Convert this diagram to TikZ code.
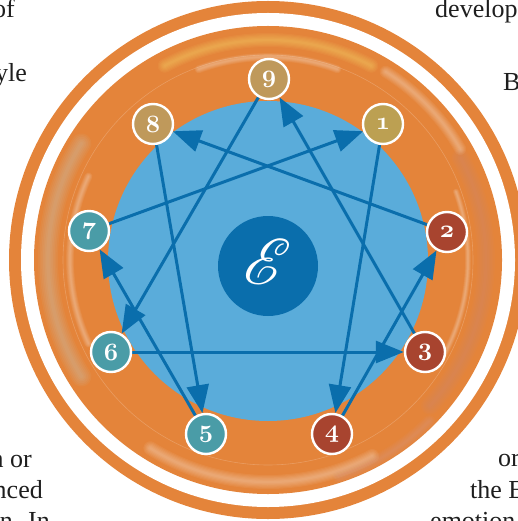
\documentclass[tikz,border=0pt]{standalone}
\usepackage{fontspec}
\setmainfont{Liberation Serif}
\usepackage{mathrsfs}
\usetikzlibrary{arrows.meta}
\definecolor{ringor}{HTML}{E4843A}
\definecolor{ltblue}{HTML}{5AACDA}
\definecolor{dkblue}{HTML}{0A6EAC}
\definecolor{tan}{HTML}{BF995B}
\definecolor{olive}{HTML}{BCA052}
\definecolor{rust}{HTML}{A8442F}
\definecolor{teal}{HTML}{4A9CA7}
\definecolor{txt}{HTML}{1E1E1E}
\pgfdeclarelayer{bg}\pgfdeclarelayer{mid}\pgfsetlayers{bg,mid,main}
% soft blurred arc: colour, radius, start, end, width
\newcommand\softarc[5]{%
  \foreach \k in {1,2,3,4,5,6}{%
    \pgfmathsetmacro\lw{#5*\k/6}%
    \draw[color=#1,opacity=0.06,line width=\lw pt,line cap=round]
      (268,260) ++(#3:#2pt) arc[start angle=#3,end angle=#4,radius=#2pt];}}
\begin{document}
\begin{tikzpicture}[x=1pt,y=-1pt,
  num/.style={circle,minimum size=40pt,inner sep=0pt,draw=white,line width=2.4pt,text=white,
    font=\fontsize{31}{31}\usefont{OML}{cmm}{b}{it}},
  arr/.style={draw=dkblue,line width=3pt,-{Triangle[length=28pt,width=22pt]}},
  frag/.style={font=\fontsize{26}{26}\selectfont,text=txt,inner sep=0pt}]
\useasboundingbox (0,0) rectangle (517,521);
\begin{pgfonlayer}{bg}
  \fill[ringor] (268,260) circle (259pt);
  \fill[white] (268,260) circle (247pt);
  \fill[ringor] (268,260) circle (234pt);
  % soft streaks in the ring
  \softarc{yellow!50!white}{220}{118}{62}{14}
  \softarc{white}{203}{110}{70}{8}
  \softarc{teal!35!white}{220}{148}{212}{20}
  \softarc{white}{198}{155}{205}{8}
  \softarc{rust!60!white}{218}{28}{-42}{18}
  \softarc{white}{200}{20}{-30}{6}
  \softarc{white}{222}{-62}{-122}{14}
  \softarc{rust!50!white}{228}{-45}{-72}{12}
  \softarc{white}{222}{58}{30}{12}
  \draw[white,opacity=0.2,line width=0.6pt] (268,260) circle (205pt);
  \fill[ltblue] (268,261) circle (160pt);
  \fill[dkblue] (268,266) circle (50pt);
\end{pgfonlayer}
% numbered points
\node[num,fill=tan]   (n9) at (269,79)  {9};
\node[num,fill=olive] (n1) at (383,124) {1};
\node[num,fill=rust]  (n2) at (447,232) {2};
\node[num,fill=rust]  (n3) at (425,352) {3};
\node[num,fill=rust]  (n4) at (332,434) {4};
\node[num,fill=teal]  (n5) at (206,434) {5};
\node[num,fill=teal]  (n6) at (111,352) {6};
\node[num,fill=teal]  (n7) at (89,231)  {7};
\node[num,fill=tan]   (n8) at (153,124) {8};
\node[text=white,scale=2.6] (logo) at (268,262) {\Huge$\mathscr{E}$};
\begin{pgfonlayer}{mid}
  \draw[arr] (n9) -- (n6);
  \draw[arr] (n6) -- (n3);
  \draw[arr] (n3) -- (n9);
  \draw[arr] (n1) -- (n4);
  \draw[arr] (n4) -- (n2);
  \draw[arr] (n2) -- (n8);
  \draw[arr] (n8) -- (n5);
  \draw[arr] (n5) -- (n7);
  \draw[arr] (n7) -- (n1);
\end{pgfonlayer}
% surrounding page text fragments
\node[frag,anchor=base east] (t1) at (15,18) {of};
\node[frag,anchor=base east] (t2) at (27,82) {yle};
\node[frag,anchor=base east] (t3) at (32,467) {n or};
\node[frag,anchor=base east] (t4) at (43,498) {nced};
\node[frag,anchor=base east] (t5) at (50,529) {n. In};
\node[frag,anchor=base west] (t6) at (435,18) {develop};
\node[frag,anchor=base west] (t7) at (503,91) {B};
\node[frag,anchor=base west] (t8) at (498,466) {or};
\node[frag,anchor=base west] (t9) at (470,498) {the E};
\node[frag,anchor=base west] (t10) at (430,529) {emotion};
\end{tikzpicture}
\end{document}
